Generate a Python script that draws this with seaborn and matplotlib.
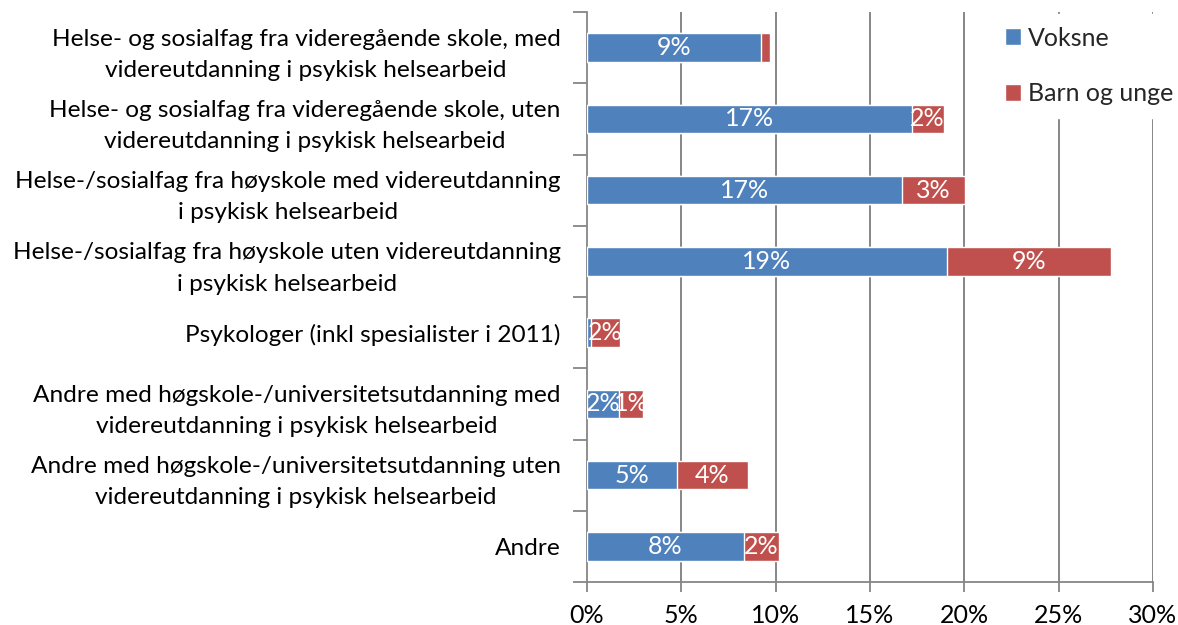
import matplotlib
matplotlib.use("Agg")
import matplotlib.pyplot as plt
import seaborn as sns
import pandas as pd
import numpy as np

categories = [
    "Helse- og sosialfag fra videregående skole, med\nvidereutdanning i psykisk helsearbeid",
    "Helse- og sosialfag fra videregående skole, uten\nvidereutdanning i psykisk helsearbeid",
    "Helse-/sosialfag fra høyskole med videreutdanning\ni psykisk helsearbeid",
    "Helse-/sosialfag fra høyskole uten videreutdanning\ni psykisk helsearbeid",
    "Psykologer (inkl spesialister i 2011)",
    "Andre med høgskole-/universitetsutdanning med\nvidereutdanning i psykisk helsearbeid",
    "Andre med høgskole-/universitetsutdanning uten\nvidereutdanning i psykisk helsearbeid",
    "Andre",
]
voksne = [9.24, 17.2, 16.7, 19.08, 0.23, 1.71, 4.75, 8.32]
barn = [0.48, 1.7, 3.35, 8.7, 1.51, 1.24, 3.8, 1.86]
voksne_labels = ["9%", "17%", "17%", "19%", "", "2%", "5%", "8%"]
barn_labels = ["", "2%", "3%", "9%", "2%", "1%", "4%", "2%"]
series_names = ["Voksne", "Barn og unge"]
xticks = [0, 5, 10, 15, 20, 25, 30]

BLUE = "#4F81BD"
RED = "#C0504D"
GRID = "#868686"

sns.set_theme(style="white")
plt.rcParams["font.family"] = ["Lato", "DejaVu Sans"]

df = pd.DataFrame({"cat": categories, "voksne": voksne, "barn": barn})
df["total"] = df["voksne"] + df["barn"]

fig = plt.figure(figsize=(11.78, 6.25), dpi=100)
ax = fig.add_axes([587/1178, 1-582/625, (1153-587)/1178, (582-12)/625])

sns.barplot(data=df, y="cat", x="total", color=RED, orient="h", width=0.4,
            saturation=1, ax=ax, zorder=3, label=series_names[1], legend=False)
red_patches = list(ax.patches)
sns.barplot(data=df, y="cat", x="voksne", color=BLUE, orient="h", width=0.4,
            saturation=1, ax=ax, zorder=4, label=series_names[0], legend=False)
blue_patches = list(ax.patches)[len(red_patches):]
if ax.get_legend() is not None:
    ax.get_legend().remove()

fs = 18
fs_cat = 17.6
fs_lab = 18
for i in range(len(categories)):
    if voksne_labels[i]:
        t = ax.text(voksne[i] / 2, i, voksne_labels[i], ha="center", va="center",
                    color="white", fontsize=fs_lab, zorder=6)
        t.set_clip_on(True)
        t.set_clip_path(blue_patches[i])
    if barn_labels[i]:
        t = ax.text(voksne[i] + barn[i] / 2, i, barn_labels[i], ha="center", va="center",
                    color="white", fontsize=fs_lab, zorder=6)
        t.set_clip_on(True)
        t.set_clip_path(red_patches[i])

ax.set_xlim(0, 30)
ax.set_ylim(len(categories) - 0.5, -0.5)
ax.set_xticks(xticks)
ax.set_xticklabels([f"{v}%" for v in xticks], fontsize=fs, color="black")
ax.set_yticks(range(len(categories)))
ax.set_yticklabels(categories, fontsize=fs_cat, color="black", ha="right",
                   multialignment="center")
for tl in ax.get_yticklabels():
    tl.set_linespacing(1.6)
ax.set_yticks(np.arange(-0.5, len(categories) + 0.5, 1), minor=True)
ax.tick_params(axis="y", which="major", left=False, length=0, pad=19)
ax.tick_params(axis="y", which="minor", left=True, length=10, width=1.3, color=GRID)
ax.tick_params(axis="x", which="major", bottom=True, length=7, width=1.3, color=GRID, pad=9)
ax.set_xlabel("")
ax.set_ylabel("")

for v in xticks[1:]:
    ax.axvline(v, color=GRID, lw=1.4, zorder=1)

for s in ["top", "right"]:
    ax.spines[s].set_visible(False)
for s in ["left", "bottom"]:
    ax.spines[s].set_color(GRID)
    ax.spines[s].set_linewidth(1.3)

handles, labels = ax.get_legend_handles_labels()
order = [labels.index(n) for n in series_names]
leg = fig.legend([handles[k] for k in order], [labels[k] for k in order],
                 loc="upper left", bbox_to_anchor=(992/1178, 1-14/625),
                 frameon=True, fontsize=fs, handlelength=0.65, handleheight=0.65,
                 handletextpad=0.3, labelspacing=1.3, borderpad=0.5,
                 borderaxespad=0)
leg.get_frame().set_facecolor("white")
leg.get_frame().set_edgecolor("white")
leg.get_frame().set_alpha(1)
leg.set_zorder(10)

fig.savefig("out.png", dpi=100, facecolor="white")
